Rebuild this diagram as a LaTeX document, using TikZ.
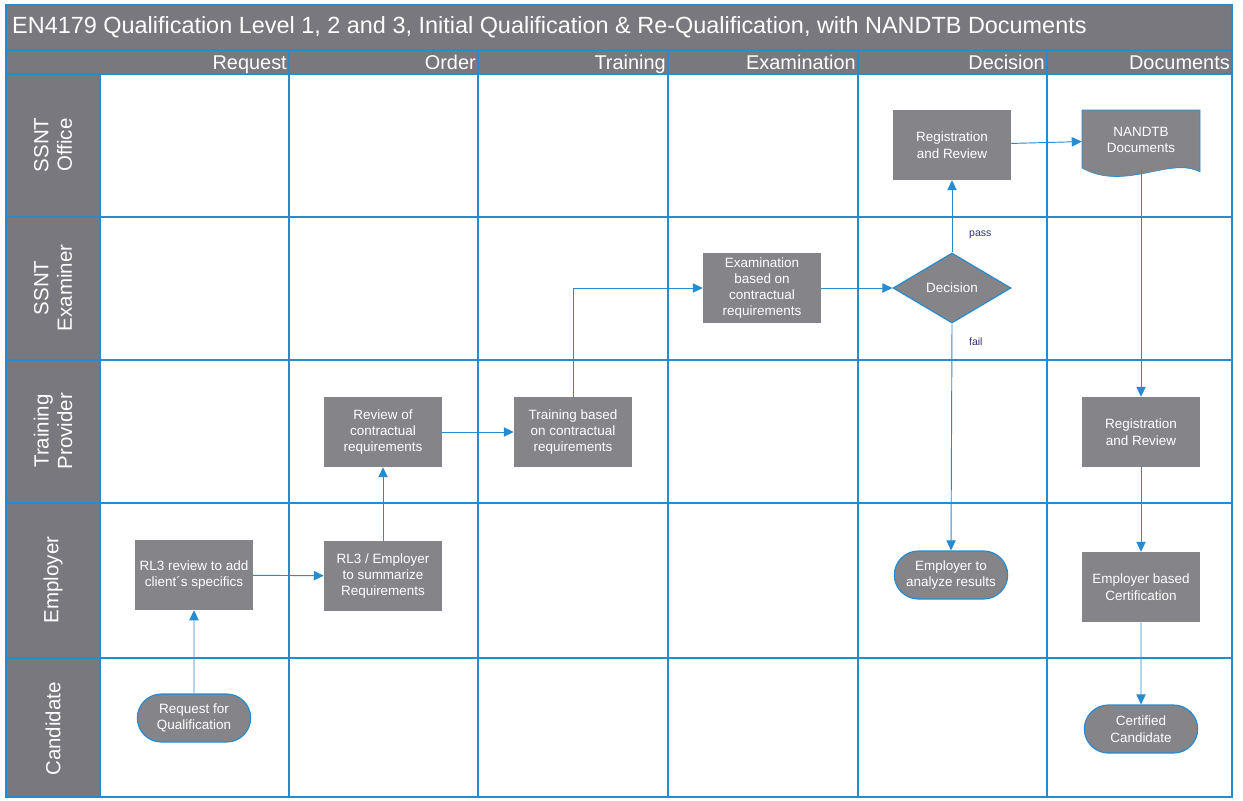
\documentclass[tikz,border=0pt]{standalone}
\usepackage{fontspec}
\setmainfont{Liberation Sans}
\usetikzlibrary{positioning,shapes.geometric,shapes.misc,arrows.meta}
\definecolor{lanegray}{RGB}{120,120,126}
\definecolor{boxgray}{RGB}{132,132,137}
\definecolor{laneblue}{RGB}{38,140,210}
\definecolor{notenavy}{RGB}{50,50,120}

\begin{document}
\begin{tikzpicture}[x=0.03cm, y=-0.03cm,
	grid/.style={draw=laneblue, line width=1pt},
	task/.style={fill=boxgray, text=white, align=center, minimum width=3.54cm, minimum height=2.1cm, inner sep=2pt, font=\fontsize{11.5}{14}\selectfont},
	term/.style={task, rounded rectangle, draw=laneblue, line width=1pt, minimum height=1.44cm},
	choice/.style={task, diamond, draw=laneblue, line width=1pt, inner sep=0pt},
	flow/.style={draw=laneblue, line width=0.8pt, -{Triangle[length=3mm,width=2.8mm]}},
	note/.style={text=notenavy, font=\fontsize{9}{10}\selectfont, inner sep=0pt}]
			\useasboundingbox (0,0) rectangle (1243,800);
			\fill[white] (0,0) rectangle (1243,800);
			% title, header row and lane column
			\fill[lanegray] (6,5) rectangle (1232,74);
			\fill[lanegray] (6,74) rectangle (100,797);
			\draw[grid] (6,5) rectangle (1232,797);
			\draw[grid] (6,50) -- (1232,50);
			\foreach \y in {74,217,360,503,658}
				\draw[grid] (6,\y) -- (1232,\y);
			\draw[grid] (100,74) -- (100,797);
			\foreach \x in {289,478,668,858,1047}
				\draw[grid] (\x,50) -- (\x,797);
			\node[anchor=west, text=white, inner sep=0pt, font=\fontsize{20}{22}\selectfont] (title) at (12,27) {EN4179 Qualification Level 1, 2 and 3, Initial Qualification \& Re-Qualification, with NANDTB Documents};
			\foreach \x/\head in {289/Request, 478/Order, 668/Training, 858/Examination, 1047/Decision, 1232/Documents}
				\node[anchor=base east, text=white, inner sep=0pt, font=\fontsize{17}{19}\selectfont] (head-\head) at (\x-2,69) {\head};
			\foreach \y/\who/\lbl in {145/office/{SSNT\\Office}, 288/examiner/{SSNT\\Examiner}, 431/provider/{Training\\Provider}, 580/employer/Employer, 729/candidate/Candidate}
				\node[rotate=90, align=center, text=white, inner sep=0pt, font=\fontsize{17.5}{20}\selectfont] (lane-\who) at (53,\y) {\lbl};

			% steps
			\node[term] (request) at (194,718) {Request for\\Qualification};
			\node[task] (specifics) at (194,575) {RL3 review to add\\client´s specifics};
			\node[task] (summary) at (383,576) {RL3 / Employer\\to summarize\\Requirements};
			\node[task] (contract) at (383,432) {Review of\\contractual\\requirements};
			\node[task] (training) at (573,432) {Training based\\on contractual\\requirements};
			\node[task, font=\fontsize{11.5}{13.5}\selectfont] (exam) at (762,288) {Examination\\based on\\contractual\\requirements};
			\node[choice] (decision) at (952,288) {Decision};
			\node[task] (regoffice) at (952,145) {Registration\\and Review};
			\draw[laneblue, line width=0.5pt, fill=boxgray] (1082,110) -- (1200,110) -- (1200,172) .. controls (1170,156) and (1125,192) .. (1082,168) -- cycle;
			\node[task, fill=none, minimum height=1.8cm] (nandtb) at (1141,140) {NANDTB\\Documents};
			\node[task] (regprovider) at (1141,432) {Registration\\and Review};
			\node[term] (analyze) at (951,575) {Employer to\\analyze results};
			\node[task] (certify) at (1141,587) {Employer based\\Certification};
			\node[term] (certified) at (1141,729) {Certified\\Candidate};

			% connectors
			\draw[flow] (request) -- (specifics);
			\draw[flow] (specifics) -- (summary);
			\draw[flow] (summary) -- (contract);
			\draw[flow] (contract) -- (training);
			\draw[flow] (training.north) |- (exam.west);
			\draw[flow] (exam) -- (decision);
			\draw[flow] (decision.north) -- node[note, pos=0.25, right=0.5cm] (pass) {pass} (regoffice.south);
			\draw[flow] (decision.south) -- node[note, pos=0.08, right=0.5cm] (fail) {fail} (analyze.north);
			\draw[flow] (regoffice) -- (nandtb);
			\draw[flow] (nandtb.south) -- (regprovider.north);
			\draw[flow] (regprovider) -- (certify);
			\draw[flow] (certify) -- (certified);
\end{tikzpicture}
\end{document}
